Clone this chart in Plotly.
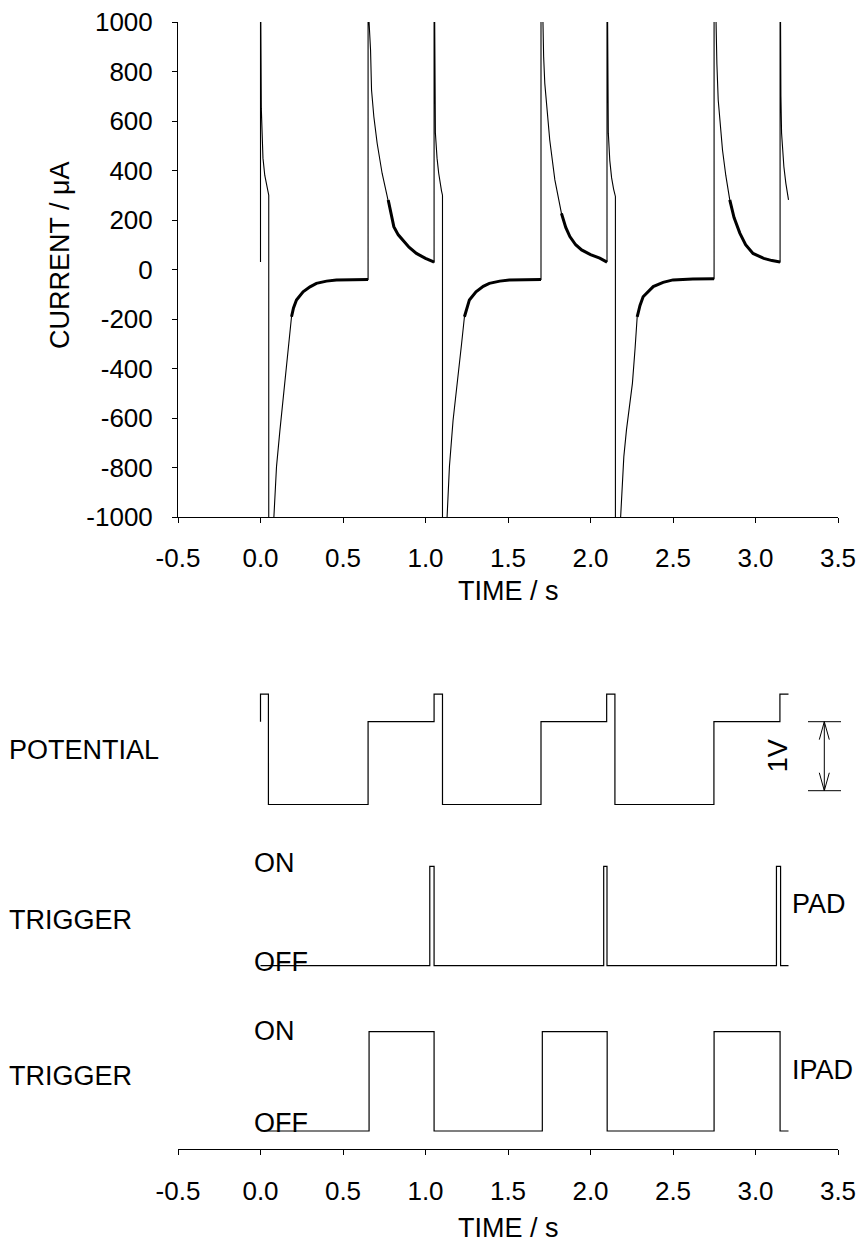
import plotly.graph_objects as go

W, H = 863, 1246

# ---- current response (time in s, current in uA) ----
time_s = [
    0.000, 0.000, 0.002, 0.005, 0.008, 0.015, 0.026, 0.040, 0.050, 0.050,
    0.083, 0.097, 0.117, 0.153, 0.171, 0.188, 0.200, 0.218, 0.258, 0.300,
    0.339, 0.400, 0.460, 0.560, 0.652, 0.652, 0.658, 0.667, 0.673, 0.687,
    0.707, 0.737, 0.774, 0.808, 0.835, 0.864, 0.900, 0.945, 1.000, 1.046,
    1.052, 1.052, 1.054, 1.057, 1.060, 1.070, 1.080, 1.097, 1.103, 1.103,
    1.131, 1.145, 1.167, 1.201, 1.219, 1.236, 1.250, 1.266, 1.306, 1.350,
    1.387, 1.450, 1.508, 1.600, 1.700, 1.700, 1.709, 1.716, 1.723, 1.737,
    1.753, 1.784, 1.824, 1.850, 1.875, 1.910, 1.946, 2.000, 2.056, 2.098,
    2.100, 2.100, 2.102, 2.105, 2.108, 2.117, 2.128, 2.140, 2.151, 2.151,
    2.182, 2.202, 2.218, 2.254, 2.270, 2.283, 2.300, 2.319, 2.380, 2.440,
    2.500, 2.620, 2.742, 2.749, 2.749, 2.759, 2.766, 2.774, 2.787, 2.800,
    2.820, 2.844, 2.870, 2.905, 2.940, 2.985, 3.050, 3.100, 3.143, 3.149,
    3.149, 3.151, 3.154, 3.158, 3.172, 3.184, 3.200,
]
current_uA = [
    30, 1400, 1000, 650, 551, 450, 380, 330, 300, -1400,
    -1000, -797, -655, -419, -298, -191, -155, -123, -90, -70,
    -56, -47, -42, -41, -40, 1400, 1000, 887, 725, 617,
    510, 389, 281, 173, 140, 119, 90, 65, 45, 32,
    30, 1400, 1000, 700, 551, 450, 389, 318, 300, -1400,
    -1000, -797, -610, -419, -298, -191, -155, -123, -90, -68,
    -56, -47, -42, -41, -40, 1400, 1000, 860, 752, 630,
    523, 362, 227, 170, 133, 100, 79, 60, 46, 31,
    30, 1400, 1000, 650, 551, 440, 370, 325, 295, -1400,
    -1000, -756, -648, -460, -320, -191, -145, -110, -69, -52,
    -42, -38, -37, -37, 1400, 1000, 830, 685, 580, 483,
    380, 281, 210, 147, 100, 65, 45, 36, 31, 30,
    1400, 1000, 700, 551, 415, 348, 281,
]

# ---- applied potential waveform (step times in s, level in V) ----
pot_time = [0.000, 0.000, 0.048, 0.652, 1.052, 1.103, 1.700, 2.098, 2.148, 2.748, 3.148, 3.200]
pot_volt = [0.15, 0.55, -1.05, 0.15, 0.55, -1.05, 0.15, 0.55, -1.05, 0.15, 0.55, 0.55]

# ---- trigger signals (1 = ON, 0 = OFF) ----
pad_time = [0.000, 1.026, 1.052, 2.080, 2.100, 3.127, 3.152, 3.200]
pad_state = [0, 1, 0, 1, 0, 1, 0, 0]
ipad_time = [0.000, 0.658, 1.052, 1.708, 2.101, 2.749, 3.149, 3.200]
ipad_state = [0, 1, 0, 1, 0, 1, 0, 0]

x_ticks = [-0.5, 0.0, 0.5, 1.0, 1.5, 2.0, 2.5, 3.0, 3.5]
y_ticks = list(range(-1000, 1001, 200))

# vertical layout of the lower panel (units: volts of the potential trace)
POT_OFFSET = 6.047
PAD_BASE, IPAD_BASE, TRIG_HEIGHT = 2.661, 0.265, 1.44
SCALE_TOP, SCALE_BOTTOM = 0.15, -0.85   # 1 V scale bar

FONT = "Liberation Sans, Arial, sans-serif"
BLACK = "#000000"
TICK_SIZE = 26
LABEL_SIZE = 27


def px(x):
    return x / W


def py(y):
    return 1 - y / H


fig = go.Figure()

# current trace: thin base line, noisy low-current parts drawn thicker
fig.add_trace(go.Scatter(x=time_s, y=current_uA, mode="lines",
                         line=dict(color=BLACK, width=1.1),
                         xaxis="x", yaxis="y", showlegend=False, hoverinfo="skip"))
noisy = [c if abs(c) < 290 else None for c in current_uA]
fig.add_trace(go.Scatter(x=time_s, y=noisy, mode="lines", connectgaps=False,
                         line=dict(color=BLACK, width=3),
                         xaxis="x", yaxis="y", showlegend=False, hoverinfo="skip"))

# lower panel waveforms
fig.add_trace(go.Scatter(x=pot_time, y=[v + POT_OFFSET for v in pot_volt], mode="lines",
                         line=dict(color=BLACK, width=1.2, shape="hv"),
                         xaxis="x2", yaxis="y2", showlegend=False, hoverinfo="skip"))
fig.add_trace(go.Scatter(x=pad_time, y=[PAD_BASE + s * TRIG_HEIGHT for s in pad_state],
                         mode="lines", line=dict(color=BLACK, width=1.2, shape="hv"),
                         xaxis="x2", yaxis="y2", showlegend=False, hoverinfo="skip"))
fig.add_trace(go.Scatter(x=ipad_time, y=[IPAD_BASE + s * TRIG_HEIGHT for s in ipad_state],
                         mode="lines", line=dict(color=BLACK, width=1.2, shape="hv"),
                         xaxis="x2", yaxis="y2", showlegend=False, hoverinfo="skip"))

axis_common = dict(
    range=[-0.5, 3.5], tickvals=x_ticks, ticktext=[f"{t:.1f}" for t in x_ticks],
    showline=True, linecolor=BLACK, linewidth=1, ticks="outside", ticklen=5,
    tickcolor=BLACK, tickwidth=1, showgrid=False, zeroline=False,
    tickfont=dict(family=FONT, size=TICK_SIZE, color=BLACK), ticklabelstandoff=13,
    domain=[px(178), px(838)],
)

fig.update_layout(
    width=W, height=H, margin=dict(l=0, r=0, t=0, b=0, pad=0, autoexpand=False),
    paper_bgcolor="white", plot_bgcolor="white", showlegend=False,
    font=dict(family=FONT, size=LABEL_SIZE, color=BLACK),
    xaxis=dict(anchor="y", **axis_common),
    yaxis=dict(anchor="x", domain=[py(517), py(22)], range=[-1000, 1000],
               tickvals=y_ticks, ticktext=[str(v) for v in y_ticks],
               showline=True, linecolor=BLACK, linewidth=1,
               ticks="outside", ticklen=5, tickcolor=BLACK, showgrid=False,
               zeroline=False, tickfont=dict(family=FONT, size=TICK_SIZE, color=BLACK),
               ticklabelstandoff=14),
    xaxis2=dict(anchor="y2", **axis_common),
    yaxis2=dict(anchor="x2", domain=[py(1149.3), py(660)], range=[0, 7.091],
                visible=False),
)

ann = []
# axis titles
ann.append(dict(text="TIME / s", x=px(508), y=py(591), xref="paper", yref="paper",
                showarrow=False, xanchor="center", yanchor="middle"))
ann.append(dict(text="TIME / s", x=px(508), y=py(1228), xref="paper", yref="paper",
                showarrow=False, xanchor="center", yanchor="middle"))
ann.append(dict(text="CURRENT / μA", x=px(60), y=py(255), xref="paper", yref="paper",
                showarrow=False, textangle=-90, xanchor="center", yanchor="middle"))
# lower panel labels
ann.append(dict(text="POTENTIAL", x=px(7), y=py(750), xref="paper", yref="paper",
                showarrow=False, xanchor="left", yanchor="middle"))
ann.append(dict(text="TRIGGER", x=px(7), y=py(920), xref="paper", yref="paper",
                showarrow=False, xanchor="left", yanchor="middle"))
ann.append(dict(text="TRIGGER", x=px(7), y=py(1076), xref="paper", yref="paper",
                showarrow=False, xanchor="left", yanchor="middle"))
for base, on_dy, off_dy in [(PAD_BASE, 0.05, 0.06), (IPAD_BASE, 0.015, 0.11)]:
    ann.append(dict(text="ON", x=px(252), y=base + TRIG_HEIGHT + on_dy, xref="paper",
                    yref="y2", showarrow=False, xanchor="left", yanchor="middle"))
    ann.append(dict(text="OFF", x=px(252), y=base + off_dy, xref="paper",
                    yref="y2", showarrow=False, xanchor="left", yanchor="middle"))
ann.append(dict(text="PAD", x=px(790), y=PAD_BASE + 0.90, xref="paper", yref="y2",
                showarrow=False, xanchor="left", yanchor="middle"))
ann.append(dict(text="IPAD", x=px(790), y=IPAD_BASE + 0.88, xref="paper", yref="y2",
                showarrow=False, xanchor="left", yanchor="middle"))
# 1 V scale bar label
ann.append(dict(text="1V", x=px(778), y=(SCALE_TOP + SCALE_BOTTOM) / 2 + POT_OFFSET,
                xref="paper", yref="y2", showarrow=False, textangle=-90,
                xanchor="center", yanchor="middle"))
fig.update_layout(annotations=ann)

# 1 V scale bar with open arrow heads
yt = SCALE_TOP + POT_OFFSET
yb = SCALE_BOTTOM + POT_OFFSET
xc = 824.3
head = 0.26
shapes = [
    dict(type="line", xref="paper", yref="y2", x0=px(808), x1=px(841), y0=yt, y1=yt,
         line=dict(color=BLACK, width=1)),
    dict(type="line", xref="paper", yref="y2", x0=px(808), x1=px(841), y0=yb, y1=yb,
         line=dict(color=BLACK, width=1)),
    dict(type="line", xref="paper", yref="y2", x0=px(xc), x1=px(xc), y0=yb, y1=yt,
         line=dict(color=BLACK, width=1)),
]
for tip, sgn in [(yt, -1), (yb, 1)]:
    for dx in (-5, 5):
        shapes.append(dict(type="line", xref="paper", yref="y2",
                           x0=px(xc), y0=tip, x1=px(xc + dx), y1=tip + sgn * head,
                           line=dict(color=BLACK, width=1)))
fig.update_layout(shapes=shapes)

fig.write_html("out.html")
